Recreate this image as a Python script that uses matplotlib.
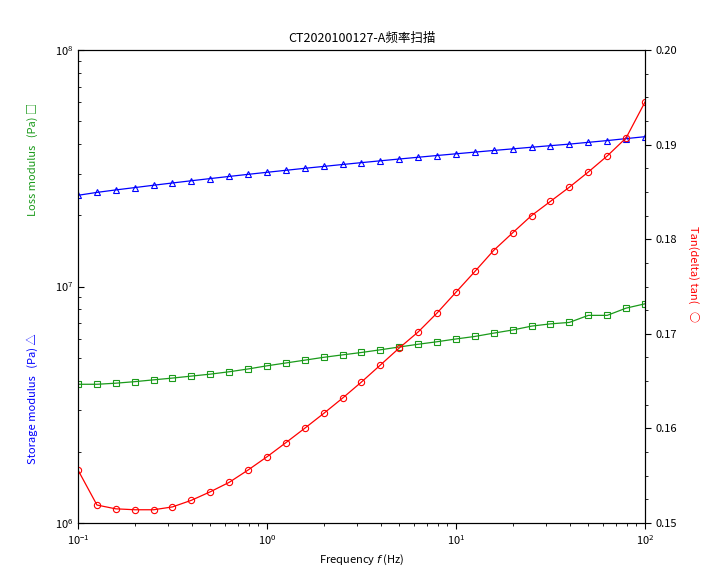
import matplotlib.pyplot as plt
from matplotlib.ticker import LogLocator, NullFormatter, MultipleLocator

plt.rcParams['font.family'] = ['Noto Sans CJK SC', 'DejaVu Sans']

freq = [0.1, 0.126, 0.158, 0.2, 0.251, 0.316, 0.398, 0.501, 0.631, 0.794,
        1.0, 1.26, 1.58, 2.0, 2.51, 3.16, 3.98, 5.01, 6.31, 7.94,
        10.0, 12.6, 15.8, 20.0, 25.1, 31.6, 39.8, 50.1, 63.1, 79.4, 100.0]
storage = [2.43, 2.50, 2.56, 2.62, 2.68, 2.74, 2.80, 2.86, 2.92, 2.98,
           3.04, 3.10, 3.16, 3.22, 3.28, 3.34, 3.40, 3.46, 3.52, 3.58,
           3.64, 3.70, 3.76, 3.82, 3.88, 3.94, 4.00, 4.07, 4.14, 4.22, 4.30]
loss = [3.86, 3.86, 3.90, 3.96, 4.03, 4.10, 4.18, 4.26, 4.36, 4.48,
        4.62, 4.75, 4.88, 5.02, 5.14, 5.26, 5.40, 5.55, 5.70, 5.84,
        6.00, 6.15, 6.35, 6.55, 6.80, 6.95, 7.05, 7.55, 7.55, 8.10, 8.45]
tan_delta = [0.1556, 0.1519, 0.1515, 0.1514, 0.1514, 0.1517, 0.1524, 0.1533, 0.1543, 0.1556,
             0.1570, 0.1585, 0.1600, 0.1616, 0.1632, 0.1649, 0.1667, 0.1685, 0.1702, 0.1722,
             0.1744, 0.1766, 0.1788, 0.1807, 0.1825, 0.1840, 0.1855, 0.1871, 0.1888, 0.1907, 0.1945]

fig = plt.figure(figsize=(7.26, 5.70), dpi=100)
ax = fig.add_axes([78/726, 47/570, 567/726, 473/570])
ax2 = ax.twinx()

ax.plot(freq, [v * 1e7 for v in storage], color='blue', lw=0.9, marker='^',
        mfc='none', ms=4.5, mew=0.8)
ax.plot(freq, [v * 1e6 for v in loss], color='#1a9a1a', lw=0.9, marker='s',
        mfc='none', ms=4.5, mew=0.8)
ax2.plot(freq, tan_delta, color='red', lw=0.9, marker='o', mfc='none', ms=4.5, mew=0.8)

ax.set_xscale('log')
ax.set_yscale('log')
ax.set_xlim(0.1, 100)
ax.set_ylim(1e6, 1e8)
ax2.set_ylim(0.15, 0.20)
ax2.yaxis.set_major_locator(MultipleLocator(0.01))
ax2.yaxis.set_minor_locator(MultipleLocator(0.0025))
ax2.yaxis.set_major_formatter(plt.FuncFormatter(lambda v, p: f"{v:.2f}"))

ax.yaxis.set_minor_locator(LogLocator(subs=range(2, 10)))
ax.yaxis.set_minor_formatter(NullFormatter())
ax.xaxis.set_minor_locator(LogLocator(subs=range(2, 10)))
ax.xaxis.set_minor_formatter(NullFormatter())

for a in (ax, ax2):
    a.tick_params(labelsize=8, length=4)
    a.tick_params(which='minor', length=2)
ax.tick_params(axis='y', direction='in', which='both')

ax.set_xlabel('Frequency $f$ (Hz)', fontsize=8)
ax.set_title('CT2020100127-A频率扫描', fontsize=9)
fig.text(0.045, 0.30, 'Storage modulus   (Pa) △', color='blue', rotation=90,
         fontsize=8, ha='center', va='center')
fig.text(0.045, 0.72, 'Loss modulus   (Pa) □', color='#1a9a1a', rotation=90,
         fontsize=8, ha='center', va='center')
fig.text(0.955, 0.52, 'Tan(delta) tan(   ○', color='red', rotation=-90,
         fontsize=8, ha='center', va='center')

fig.savefig('out.png', dpi=100)
